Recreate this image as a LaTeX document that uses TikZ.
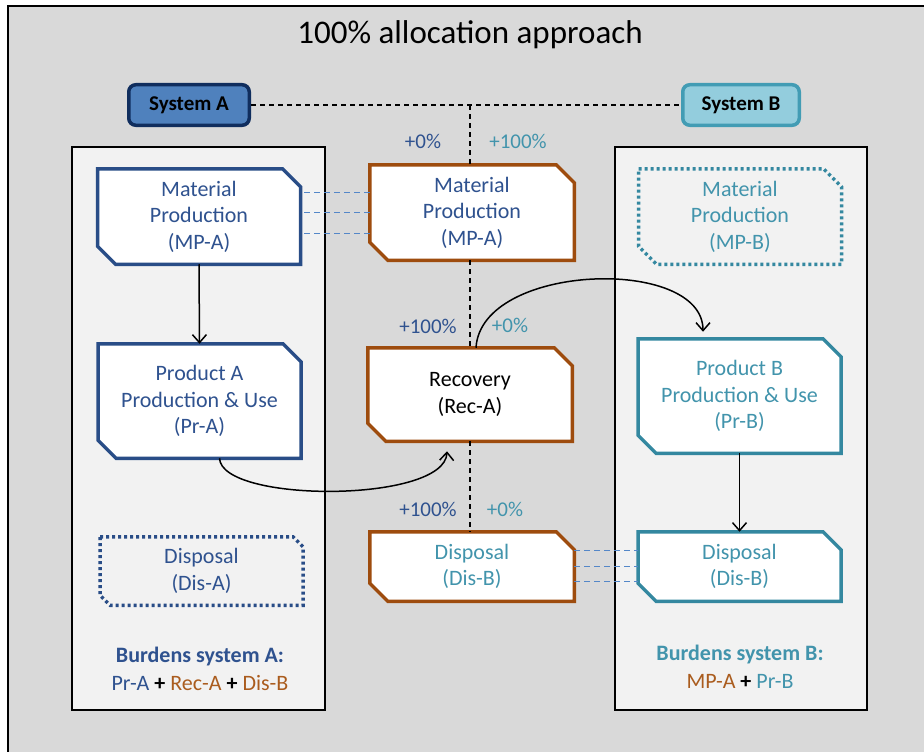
\documentclass[tikz,border=0pt]{standalone}
\usepackage{fontspec}
\setmainfont{Carlito}
\usetikzlibrary{arrows.meta}
\definecolor{bgray}{RGB}{217,217,217}
\definecolor{pgray}{RGB}{242,242,242}
\definecolor{ablue}{RGB}{41,77,135}
\definecolor{atext}{RGB}{47,82,143}
\definecolor{aorange}{RGB}{158,76,14}
\definecolor{otext}{RGB}{170,92,30}
\definecolor{bteal}{RGB}{52,136,160}
\definecolor{btext}{RGB}{66,148,172}
\definecolor{sysafill}{RGB}{79,129,189}
\definecolor{sysadraw}{RGB}{16,46,94}
\definecolor{sysbfill}{RGB}{147,205,221}
\definecolor{sysbdraw}{RGB}{66,156,180}
\definecolor{linkblue}{RGB}{84,135,200}
\def\chamf{18pt}
\pgfdeclarelayer{back}
\pgfdeclarelayer{boxes}
\pgfsetlayers{back,boxes,main}
\newcommand\snip[3]{%
    \begin{pgfonlayer}{boxes}
        \draw[#3] (#1.north west) -- ([xshift=-#2]#1.north east) -- ([yshift=-#2]#1.north east)
            -- (#1.south east) -- ([xshift=#2]#1.south west) -- ([yshift=#2]#1.south west) -- cycle;
    \end{pgfonlayer}}

\begin{document}
\begin{tikzpicture}[x=1pt,y=-1pt,font=\fontsize{22}{26.5}\selectfont,
    panel/.style={draw=black,line width=1.5pt,fill=pgray},
    stage/.style={rectangle,inner sep=0pt,outer sep=0pt,align=center,minimum width=203pt},
    solid box/.style={line width=3.5pt,fill=white},
    dotted box/.style={line width=3.5pt,dash pattern=on 3pt off 3pt},
    sys/.style={rectangle,rounded corners=7pt,draw,line width=3.5pt,minimum height=40.5pt,
        font=\fontsize{21}{26}\selectfont\bfseries},
    tie/.style={draw=black,line width=1.5pt,dash pattern=on 5pt off 4pt},
    link/.style={draw=linkblue,line width=1.5pt,dash pattern=on 6pt off 4pt},
    flow/.style={->,>={Straight Barb[length=8pt,width=14pt]},line width=1.5pt},
    pct/.style={font=\fontsize{21}{24}\selectfont},
    burden/.style={font=\fontsize{22}{26}\selectfont\bfseries}]
        \useasboundingbox (0,0) rectangle (924,752);
        \clip (0,0) rectangle (924,752);
        \begin{pgfonlayer}{back}
            \fill[white] (0,0) rectangle (924,752);
            \draw[line width=2.5pt,fill=bgray] (8,6) rectangle (940,770);
            \draw[panel] (72,147) rectangle (325,710);
            \draw[panel] (615,147) rectangle (867,710);
        \end{pgfonlayer}
        \node (title) at (470,35) {\fontsize{33}{40}\selectfont 100\% allocation approach};

        \node[sys,fill=sysafill,draw=sysadraw,minimum width=120.5pt] (sysA) at (189,105) {System A};
        \node[sys,fill=sysbfill,draw=sysbdraw,minimum width=116.5pt] (sysB) at (741,105) {System B};

        \node[stage,text=atext,minimum height=95.5pt] (mpA) at (199,216.5) {Material\\Production\\(MP-A)};
        \node[stage,text=atext,minimum height=114.5pt] (prA) at (199.5,401) {Product A\\Production \& Use\\(Pr-A)};
        \node[stage,text=atext,minimum height=68.5pt] (disA) at (201.5,571) {Disposal\\(Dis-A)};

        \node[stage,text=atext,minimum width=204.5pt,minimum height=95.5pt] (mpC) at (472,212.5) {Material\\Production\\(MP-A)};
        \node[stage,text=black,minimum width=204.5pt,minimum height=93.5pt] (rec) at (470,394.5) {Recovery\\(Rec-A)};
        \node[stage,text=btext,minimum width=204.5pt,minimum height=69.5pt] (disC) at (472,566.5) {Disposal\\(Dis-B)};

        \node[stage,text=btext,minimum height=95.5pt] (mpB) at (740,216.5) {Material\\Production\\(MP-B)};
        \node[stage,text=btext,minimum height=114.5pt] (prB) at (739.5,396) {Product B\\Production \& Use\\(Pr-B)};
        \node[stage,text=btext,minimum height=69.5pt] (disB) at (739.5,566.5) {Disposal\\(Dis-B)};

        \snip{mpA}{\chamf}{solid box,draw=ablue}
        \snip{prA}{\chamf}{solid box,draw=ablue}
        \snip{disA}{10pt}{dotted box,draw=ablue}
        \snip{mpC}{\chamf}{solid box,draw=aorange}
        \snip{rec}{\chamf}{solid box,draw=aorange}
        \snip{disC}{\chamf}{solid box,draw=aorange}
        \snip{mpB}{\chamf}{dotted box,draw=bteal}
        \snip{prB}{\chamf}{solid box,draw=bteal}
        \snip{disB}{\chamf}{solid box,draw=bteal}

        \draw[tie] (sysA) -- (sysB);
        \draw[tie] (rec.north |- sysA.east) -- (rec.north |- mpC.north);
        \draw[tie] (rec.north |- mpC.south) -- (rec.north);
        \draw[tie] (rec.south) -- (rec.south |- disC.north);

        \foreach \dy in {20pt,0pt,-21pt}
            \draw[link] ([yshift=\dy]mpC.west) -- ([yshift=\dy]mpC.west -| mpA.east);
        \foreach \dy in {16pt,0pt,-15pt}
            \draw[link] ([yshift=\dy]disC.east) -- ([yshift=\dy]disC.east -| disB.west);

        \draw[flow] (mpA.south) -- (prA.north);
        \draw[flow] (prB.south) -- (disB.north);
        \draw[flow] ([xshift=20pt]prA.south) .. controls +(2,45) and +(-2,52) .. ([xshift=-23pt,yshift=-10pt]rec.south);
        \draw[flow] ([xshift=6pt]rec.north) .. controls +(5,-85) and +(0,-76) .. ([xshift=-36.5pt,yshift=7pt]prB.north);

        \node[pct,text=atext] (p1) at (423,141) {+0\%};
        \node[pct,text=btext] (p2) at (518,141) {+100\%};
        \node[pct,text=atext] (p3) at (428,326) {+100\%};
        \node[pct,text=btext] (p4) at (510,325) {+0\%};
        \node[pct,text=atext] (p5) at (428,509) {+100\%};
        \node[pct,text=btext] (p6) at (505,509) {+0\%};

        \node[burden,text=atext] (bA) at (200,657) {Burdens system A:};
        \node (sumA) at (200,683) {\textcolor{atext}{Pr-A} \textbf{+} \textcolor{otext}{Rec-A} \textbf{+} \textcolor{otext}{Dis-B}};
        \node[burden,text=btext] (bB) at (740,655) {Burdens system B:};
        \node (sumB) at (740,681) {\textcolor{otext}{MP-A} \textbf{+} \textcolor{btext}{Pr-B}};
\end{tikzpicture}
\end{document}
